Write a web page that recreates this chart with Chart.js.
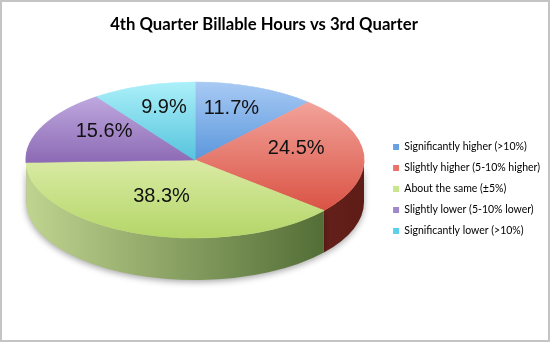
<!DOCTYPE html>
<html>
<head>
<meta charset="utf-8">
<script src="https://cdn.jsdelivr.net/npm/chart.js@4"></script>
<style>
  body { margin: 0; background: #fff; }
  canvas { display: block; }
</style>
</head>
<body>
<canvas id="chart" width="550" height="342"></canvas>
<script>
const chartTitle = '4th Quarter Billable Hours vs 3rd Quarter';
const categories = [
  'Significantly higher (>10%)',
  'Slightly higher (5-10% higher)',
  'About the same (\u00b15%)',
  'Slightly lower (5-10% lower)',
  'Significantly lower (>10%)'
];
const shares = [11.7, 24.5, 38.3, 15.6, 9.9];

// colours: top face light -> dark, side left -> right, legend swatch
const faceTop = ['#a8caf4', '#f7b1aa', '#ffffe0', '#cab6e8', '#acf0fa'];
const faceBottom = ['#0e64c4', '#d33f2f', '#b4d668', '#522284', '#0098be'];
const sideLeft = ['#4a78b8', '#9a3a30', '#c0d490', '#9a80c0', '#40a8c0'];
const sideRight = ['#1e4a88', '#5e1c17', '#44602a', '#6a4a90', '#207890'];
const swatch = ['#6aa0e4', '#e8756a', '#c8e68c', '#a088cc', '#5cd0e8'];

// where the tilted pie sits on the page
const CX = 195, CY = 160, RX = 169, RY = 78, DEPTH = 42;

function faceFill(ctx) {
  const i = ctx.dataIndex;
  const area = ctx.chart.chartArea;
  if (!area) return faceTop[i];
  const cy = (area.top + area.bottom) / 2;
  const r = Math.min(area.right - area.left, area.bottom - area.top) / 2;
  const g = ctx.chart.ctx.createLinearGradient(0, cy - r, 0, cy + r);
  g.addColorStop(0, faceTop[i]);
  g.addColorStop(1, faceBottom[i]);
  return g;
}

const tiltPlugin = {
  id: 'tilt',
  beforeDraw(chart) {
    const ctx = chart.ctx;
    ctx.save();
    ctx.fillStyle = '#fff';
    ctx.fillRect(0, 0, chart.width, chart.height);
    ctx.restore();
  },
  beforeDatasetsDraw(chart) {
    const ctx = chart.ctx;
    const arcs = chart.getDatasetMeta(0).data;
    // front side of the disc
    ctx.save();
    ctx.shadowColor = 'rgba(0,0,0,0.35)';
    ctx.shadowBlur = 6;
    ctx.shadowOffsetY = 2;
    arcs.forEach((arc, i) => {
      const a1 = Math.max(arc.startAngle, 0);
      const a2 = Math.min(arc.endAngle, Math.PI);
      if (a2 <= a1) return;
      const g = ctx.createLinearGradient(CX - RX, 0, CX + RX, 0);
      g.addColorStop(0, sideLeft[i]);
      g.addColorStop(1, sideRight[i]);
      ctx.beginPath();
      ctx.ellipse(CX, CY, RX, RY, 0, a1, a2);
      ctx.ellipse(CX, CY + DEPTH, RX, RY, 0, a2, a1, true);
      ctx.closePath();
      ctx.fillStyle = g;
      ctx.fill();
    });
    ctx.restore();

    // squash the library's round pie into the tilted ellipse
    const first = arcs[0];
    ctx.save();
    ctx.translate(CX, CY);
    ctx.scale(RX / first.outerRadius, RY / first.outerRadius);
    ctx.translate(-first.x, -first.y);
  },
  afterDatasetsDraw(chart) {
    const ctx = chart.ctx;
    ctx.restore();
    const arcs = chart.getDatasetMeta(0).data;
    const total = shares.reduce((a, b) => a + b, 0);
    ctx.save();
    ctx.font = '20px "Liberation Sans", Arial, sans-serif';
    ctx.fillStyle = '#111';
    ctx.textAlign = 'center';
    ctx.textBaseline = 'middle';
    arcs.forEach((arc, i) => {
      const mid = (arc.startAngle + arc.endAngle) / 2;
      const x = CX + RX * 0.6 * Math.cos(mid);
      const y = CY - 8 + RY * 0.6 * Math.sin(mid);
      ctx.fillText((shares[i] / total * 100).toFixed(1) + '%', x, y);
    });
    ctx.restore();
  },
  afterDraw(chart) {
    const ctx = chart.ctx;
    ctx.save();
    ctx.font = 'bold 16.7px Lato, "Open Sans", sans-serif';
    ctx.fillStyle = '#000';
    ctx.textAlign = 'center';
    ctx.textBaseline = 'middle';
    ctx.fillText(chartTitle, 264, 25);
    ctx.strokeStyle = '#c4c4c4';
    ctx.lineWidth = 2;
    ctx.strokeRect(1, 1, chart.width - 2, chart.height - 2);
    ctx.restore();
  }
};

new Chart(document.getElementById('chart'), {
  type: 'pie',
  data: {
    labels: categories,
    datasets: [{
      data: shares,
      backgroundColor: faceFill,
      borderColor: faceFill,
      borderWidth: 1
    }]
  },
  options: {
    responsive: false,
    animation: false,
    layout: { padding: { top: 36 } },
    plugins: {
      title: { display: false },
      tooltip: { enabled: false },
      legend: {
        position: 'right',
        labels: {
          boxWidth: 6,
          boxHeight: 6,
          padding: 10.5,
          color: '#111',
          font: { family: 'Lato, "Open Sans", sans-serif', size: 10.5 },
          generateLabels(chart) {
            return chart.data.labels.map((text, i) => ({
              text,
              fillStyle: swatch[i],
              strokeStyle: swatch[i],
              lineWidth: 0,
              hidden: !chart.getDataVisibility(i),
              index: i
            }));
          }
        }
      }
    }
  },
  plugins: [tiltPlugin]
});
</script>
</body>
</html>
